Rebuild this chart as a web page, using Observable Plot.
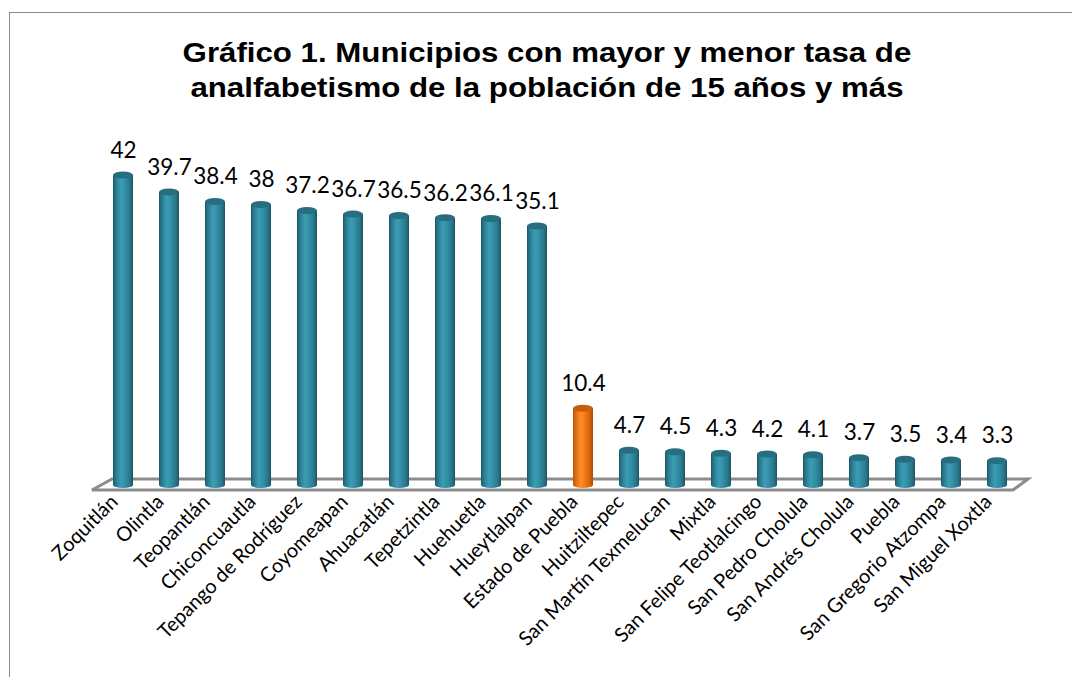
<!DOCTYPE html>
<html><head><meta charset="utf-8">
<script src="https://cdn.jsdelivr.net/npm/d3@7"></script>
<script src="https://cdn.jsdelivr.net/npm/@observablehq/plot@0.6"></script>
<style>
body{margin:0;background:#fff;}
#wrap{position:relative;width:1072px;height:677px;overflow:hidden;}
#frame{position:absolute;left:9px;top:12px;width:1100px;height:700px;border:1px solid #8a8a8a;box-sizing:border-box;}
#title{position:absolute;left:9px;width:1078px;top:35px;text-align:center;font:bold 28px "Liberation Sans",Arial,sans-serif;line-height:35px;color:#000;z-index:2;transform:scaleX(1.115);transform-origin:548px 0;}
#chart{position:absolute;left:0;top:0;z-index:1;}
</style></head>
<body><div id="wrap"><div id="frame"></div><div id="title">Gráfico 1. Municipios con mayor y menor tasa de<br>analfabetismo de la población de 15 años y más</div><div id="chart"></div></div>
<script>
const municipios = ["Zoquitlán","Olintla","Teopantlán","Chiconcuautla","Tepango de Rodríguez","Coyomeapan","Ahuacatlán","Tepetzintla","Huehuetla","Hueytlalpan","Estado de Puebla","Huitziltepec","San Martín Texmelucan","Mixtla","San Felipe Teotlalcingo","San Pedro Cholula","San Andrés Cholula","Puebla","San Gregorio Atzompa","San Miguel Xoxtla"];
const tasas = [42,39.7,38.4,38,37.2,36.7,36.5,36.2,36.1,35.1,10.4,4.7,4.5,4.3,4.2,4.1,3.7,3.5,3.4,3.3];
const destacado = "Estado de Puebla";
const tipos = ["municipio","estado"];
const colores = ["#31859C","#E46C0A"];

const data = municipios.map((m,i)=>({municipio:m, tasa:tasas[i], tipo: m===destacado?"estado":"municipio"}));

const plot = Plot.plot({
  width:1072, height:677,
  marginLeft:87, marginRight:39, marginTop:175, marginBottom:192,
  style:{background:"transparent", fontFamily:"Lato, sans-serif", fontSize:"20px", color:"#000"},
  x:{domain:municipios, padding:0.56, label:null, tickRotate:-45, tickSize:0, tickPadding:18},
  y:{domain:[0,42], axis:null},
  color:{domain:tipos, range:colores},
  marks:[
    Plot.barY(data,{x:"municipio", y:"tasa", fill:"tipo"}),
    Plot.text(data,{x:"municipio", y:"tasa", text:d=>String(d.tasa), dy:-25, fontSize:22.5, fill:"#000"})
  ]
});
document.getElementById("chart").appendChild(plot);

// 3D cylinder styling derived from the rendered bars and the plot's scales
const svg = d3.select(plot);
const defs = svg.insert("defs",":first-child");
function grad(id, stops){
  const g = defs.append("linearGradient").attr("id",id).attr("x1","0").attr("x2","1").attr("y1","0").attr("y2","0");
  stops.forEach(([o,c])=>g.append("stop").attr("offset",o).attr("stop-color",c));
}
grad("gTeal",[["0%","#1B5868"],["12%","#27768A"],["38%","#3C9CB4"],["55%","#3693AB"],["85%","#28768A"],["100%","#1A5363"]]);
grad("gOrange",[["0%","#B4520A"],["12%","#DA6A0E"],["38%","#FF8C2C"],["55%","#F7801C"],["85%","#D2620A"],["100%","#A84A05"]]);

const xs = plot.scale("x"), ys = plot.scale("y");
const y0 = ys.apply(0);
const r0 = xs.range[0], r1 = xs.range[1];
// floor
const barGroup = svg.select('g[aria-label="bar"]');
svg.insert("path", 'g[aria-label="bar"]')
  .attr("d", `M${r0+5},${y0+5}L${r0+25},${y0-6}L${r1-5},${y0-6}L${r1-20},${y0+5}Z`)
  .attr("fill","none").attr("stroke","#8C8C8C").attr("stroke-width",3).attr("stroke-linejoin","miter");

barGroup.selectAll("rect").each(function(d,k){
  const i = typeof d === "number" ? d : k;
  const est = data[i].tipo === "estado";
  const r = d3.select(this);
  const x = +r.attr("x"), y = +r.attr("y"), w = +r.attr("width"), h = +r.attr("height");
  r.attr("fill", est ? "url(#gOrange)" : "url(#gTeal)");
  barGroup.append("ellipse").attr("cx",x+w/2).attr("cy",y+h).attr("rx",w/2).attr("ry",3)
    .attr("fill", est ? "url(#gOrange)" : "url(#gTeal)");
  barGroup.append("ellipse").attr("cx",x+w/2).attr("cy",y).attr("rx",w/2).attr("ry",3.5)
    .attr("fill", est ? "#C75E0A" : "#276E80");
});

// nudge the rotated tick labels to sit like the reference
svg.selectAll('g[aria-label^="x-axis"]').each(function(){
  const g = d3.select(this);
  g.attr("transform", (g.attr("transform") || "") + " translate(-9,-5)");
});
</script>
</body></html>
